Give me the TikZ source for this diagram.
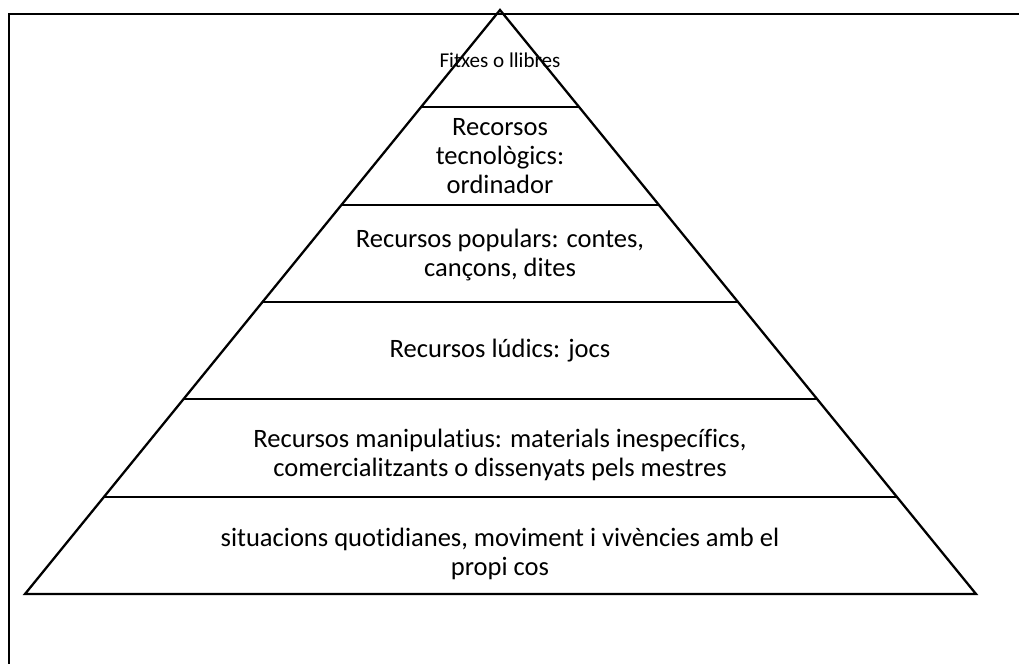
\documentclass[tikz,border=0pt]{standalone}
\usepackage{fontspec}
\setmainfont{Carlito}[Ligatures={NoCommon,NoRare}]
\usepackage{tikz}
\usetikzlibrary{calc}

\begin{document}
\begin{tikzpicture}[
		myline/.style={line width=1.3pt, line join=miter},
		mytext/.style={align=center, inner sep=0pt, font=\fontsize{15.1}{16.6}\selectfont}
	]
	\useasboundingbox (0,0) rectangle (20.38,13.28);

	\draw[myline] (20.38,13.0) -- (0.18,13.0) -- (0.18,0);

	\coordinate (top) at (10,13.08);
	\coordinate (bl) at (0.5,1.4);
	\coordinate (br) at (19.52,1.4);

	\draw[myline] (top) -- (bl) -- (br) -- cycle;
	\foreach \k in {1,...,5}
		\draw[myline] ($(top)!\k/6!(bl)$) -- ($(top)!\k/6!(br)$);

	\node[mytext, font=\fontsize{12}{14}\selectfont] (fitxes) at (10,12.08) {Fitxes o llibres};
	\node[mytext] (tecno) at (10,10.16) {Recorsos\\ tecnològics:\\ ordinador};
	\node[mytext] (popul) at (10,8.18) {Recursos populars: contes,\\ cançons, dites};
	\node[mytext] (ludic) at (10,6.26) {Recursos lúdics: jocs};
	\node[mytext] (manip) at (10,4.18) {Recursos manipulatius: materials inespecífics,\\ comercialitzants o dissenyats pels mestres};
	\node[mytext] (situa) at (10,2.2) {situacions quotidianes, moviment i vivències amb el\\ propi cos};
\end{tikzpicture}
\end{document}
